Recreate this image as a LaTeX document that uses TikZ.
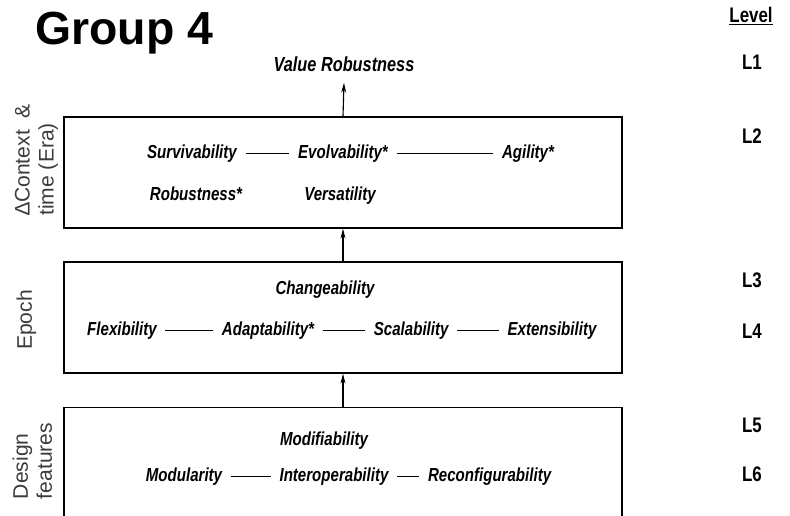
\documentclass[tikz,border=0pt]{standalone}
\usepackage{fontspec}
\usepackage{xcolor}
\usepackage{tikz}
\usetikzlibrary{arrows.meta}
\setmainfont{Liberation Sans}
\newfontfamily\narrowsans[FakeStretch=0.8]{Liberation Sans}
\newcommand{\attrfont}{\narrowsans\bfseries\itshape\fontsize{13.4}{16}\selectfont}
\newcommand{\levelfont}{\narrowsans\bfseries\fontsize{15}{18}\selectfont}
\definecolor{sidegray}{RGB}{60,60,60}

\tikzset{
  attr/.style={font=\attrfont, inner xsep=6pt, inner ysep=2pt, text height=1.6ex, text depth=0.2ex},
  levellabel/.style={font=\levelfont, text height=1.6ex, text depth=0.2ex},
  tier/.style={draw, line width=1pt, minimum width=13.95cm, minimum height=2.775cm},
  side/.style={rotate=90, align=left, text=sidegray, font=\fontsize{15}{17}\selectfont},
  link/.style={line width=0.7pt},
  up/.style={-{Stealth[length=7pt,width=3.5pt]}, line width=0.8pt}
}

\begin{document}
\begin{tikzpicture}
\useasboundingbox (0,0) rectangle (19.75,12.875);
\clip (0,0) rectangle (19.75,12.875);
% Title
\node[anchor=base west, inner sep=0pt, font=\bfseries\fontsize{33}{36}\selectfont] (title) at (0.88,11.75) {Group 4};
% Tier boxes
\node[tier] (era) at (8.575,8.5625) {};
\node[tier] (epoch) at (8.575,4.9375) {};
\node[tier, anchor=north, minimum height=3.5cm] (design) at (8.575,2.7) {};
% Top goal
\node[attr, font=\narrowsans\bfseries\itshape\fontsize{14.5}{17}\selectfont, inner ysep=7pt] (vr) at (8.6,11.225) {Value Robustness};
% Era attributes
\node[attr] (surv) at (4.8,9.05) {Survivability};
\node[attr] (evol) at (8.575,9.05) {Evolvability*};
\node[attr] (agil) at (13.2,9.05) {Agility*};
\node[attr] (robu) at (4.9,8.0) {Robustness*};
\node[attr] (vers) at (8.5,8.0) {Versatility};
% Epoch attributes
\node[attr] (chan) at (8.125,5.65) {Changeability};
\node[attr] (flex) at (3.05,4.625) {Flexibility};
\node[attr] (adap) at (6.7,4.625) {Adaptability*};
\node[attr] (scal) at (10.28,4.625) {Scalability};
\node[attr] (exte) at (13.8,4.625) {Extensibility};
% Design attributes
\node[attr] (modi) at (8.1,1.875) {Modifiability};
\node[attr] (modu) at (4.6,0.975) {Modularity};
\node[attr] (inte) at (8.35,0.975) {Interoperability};
\node[attr] (reco) at (12.24,0.975) {Reconfigurability};
% Links
\draw[link] (surv) -- (evol);
\draw[link] (evol) -- (agil);
\draw[link] (flex) -- (adap);
\draw[link] (adap) -- (scal);
\draw[link] (scal) -- (exte);
\draw[link] (modu) -- (inte);
\draw[link] (inte) -- (reco);
% Arrows between tiers
\draw[up] (design.north) -- (epoch.south);
\draw[up] (epoch.north) -- (era.south);
\draw[up] (era.north) -- (vr.south);
% Side labels
\node[side] (eraside) at (0.91,8.875) {∆Context \ \&\\time (Era)};
\node[side] (epochside) at (0.66,4.875) {Epoch};
\node[side] (designside) at (0.81,1.35) {Design\\features};
% Levels
\node[levellabel] (level) at (18.775,12.44) {\underline{Level}};
\node[levellabel] (l1) at (18.8,11.26) {L1};
\node[levellabel] (l2) at (18.8,9.42) {L2};
\node[levellabel] (l3) at (18.8,5.81) {L3};
\node[levellabel] (l4) at (18.8,4.54) {L4};
\node[levellabel] (l5) at (18.8,2.2) {L5};
\node[levellabel] (l6) at (18.8,0.96) {L6};
\end{tikzpicture}
\end{document}
